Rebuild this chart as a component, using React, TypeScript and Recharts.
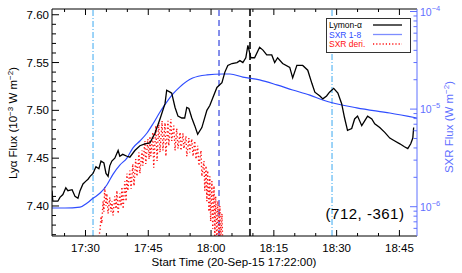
import { ComposedChart, Line, XAxis, YAxis, ReferenceLine, Legend } from "recharts"

// time is in minutes after 17:22:00 (start time of the plot)
const lyaTime = [
  0, 0.2, 1.4, 1.9, 2.6, 3.3, 3.8, 4.8, 5.5, 6.2, 6.7, 7.4, 8.1, 8.6, 9.1, 9.8, 10.5, 11.2, 11.7, 12.4,
  12.9, 13.4, 13.8, 14.3, 15.0, 15.8, 16.2, 16.9, 17.9, 18.6, 19.8, 21.0, 22.2, 23.4, 24.6, 25.8, 27.0, 27.4, 28.2, 28.6,
  29.4, 30.1, 31.0, 31.7, 32.2, 32.7, 33.4, 34.1, 34.8, 35.8, 37.0, 37.7, 38.4, 39.4, 40.6, 41.3, 42.0, 43.0, 44.2, 44.9,
  45.6, 46.3, 46.8, 47.5, 48.4, 49.6, 50.4, 51.3, 52.5, 53.2, 53.9, 55.1, 56.8, 57.5, 58.5, 59.9, 61.1, 62.1, 62.8, 64.0,
  64.7, 65.6, 66.3, 67.3, 68.3, 69.2, 69.9, 70.6, 71.6, 72.3, 73.0, 74.0, 74.7, 75.4, 76.4, 77.1, 78.3, 79.5, 80.7, 81.9,
  83.1, 84.2, 85.0, 85.7, 86.2, 86.4,
]
// Lyman-alpha flux, 10^-3 W m^-2
const lyaFlux = [
  7.416, 7.405, 7.405, 7.409, 7.412, 7.419, 7.416, 7.417, 7.41, 7.408, 7.416, 7.423, 7.426, 7.428, 7.431, 7.434, 7.441, 7.439, 7.447, 7.445,
  7.434, 7.431, 7.442, 7.447, 7.45, 7.458, 7.452, 7.454, 7.452, 7.451, 7.458, 7.463, 7.465, 7.466, 7.476, 7.491, 7.507, 7.521, 7.519, 7.518,
  7.503, 7.494, 7.492, 7.492, 7.503, 7.502, 7.492, 7.484, 7.475, 7.482, 7.5, 7.505, 7.513, 7.524, 7.529, 7.54, 7.547, 7.549, 7.55, 7.552,
  7.55, 7.555, 7.568, 7.555, 7.555, 7.566, 7.563, 7.558, 7.558, 7.55, 7.555, 7.549, 7.545, 7.534, 7.547, 7.547, 7.542, 7.528, 7.519, 7.515,
  7.512, 7.515, 7.519, 7.523, 7.518, 7.507, 7.492, 7.479, 7.481, 7.491, 7.494, 7.484, 7.489, 7.494, 7.491, 7.486, 7.482, 7.477, 7.471, 7.468,
  7.465, 7.462, 7.46, 7.465, 7.471, 7.482,
]

const sxrTime = [
  0, 3.1, 6.7, 8.4, 9.8, 11.5, 13.1, 14.6, 16.2, 17.9, 19.3, 21.0, 22.7, 24.1, 25.8, 27.4,
  28.9, 30.5, 33.6, 37.0, 40.8, 42.5, 45.6, 49.6, 53.7, 57.5, 61.6, 64.7, 72.8, 80.7, 87.2,
]
// GOES 1-8 A flux, W m^-2
const sxrFlux = [
  9.7e-7, 9.7e-7, 9.9e-7, 1.09e-6, 1.22e-6, 1.38e-6, 1.67e-6, 2.16e-6, 2.67e-6, 3.15e-6, 3.99e-6, 4.71e-6, 5.69e-6, 7.03e-6, 9.33e-6, 1.18e-5,
  1.43e-5, 1.68e-5, 2.08e-5, 2.24e-5, 2.29e-5, 2.29e-5, 2.13e-5, 1.99e-5, 1.77e-5, 1.57e-5, 1.39e-5, 1.24e-5, 1.03e-5, 9.12e-6, 8.11e-6,
]

// SXR derivative, scaled onto the Lya axis
const derivTime = [
  10.7, 11.5, 11.7, 11.9, 12.2, 12.4, 12.6, 12.9, 13.1, 13.4,
  13.8, 14.1, 14.3, 14.6, 15.0, 15.3, 15.5, 15.8, 16.2, 16.5,
  16.7, 17.0, 17.4, 17.7, 17.9, 18.1, 18.6, 18.9, 19.3, 19.6,
  20.0, 20.3, 20.8, 21.0, 21.5, 21.7, 22.2, 22.4, 22.9, 23.2,
  23.4, 23.6, 24.1, 24.3, 24.8, 25.1, 25.5, 25.8, 26.3, 26.5,
  27.0, 27.2, 27.7, 27.9, 28.4, 28.6, 29.1, 29.4, 29.8, 30.1,
  30.6, 30.8, 31.3, 31.5, 32.0, 32.2, 32.7, 32.9, 33.4, 33.7,
  34.1, 34.4, 34.8, 35.1, 35.6, 35.8, 36.3, 36.5, 36.8, 37.0,
  37.2, 37.5, 37.7, 37.9, 38.2, 38.4, 38.7, 38.9, 39.1, 39.4,
  39.6, 39.9, 40.1, 40.3, 40.6, 40.8,
]
const derivFlux = [
  7.352, 7.376, 7.389, 7.382, 7.405, 7.394, 7.42, 7.4, 7.413, 7.392,
  7.409, 7.394, 7.405, 7.39, 7.41, 7.397, 7.416, 7.392, 7.413, 7.4,
  7.42, 7.397, 7.426, 7.405, 7.434, 7.416, 7.437, 7.418, 7.444, 7.421,
  7.449, 7.431, 7.456, 7.434, 7.458, 7.442, 7.468, 7.444, 7.47, 7.449,
  7.473, 7.452, 7.477, 7.44, 7.484, 7.447, 7.487, 7.456, 7.489, 7.458,
  7.487, 7.452, 7.489, 7.463, 7.491, 7.468, 7.484, 7.458, 7.481, 7.46,
  7.477, 7.458, 7.476, 7.46, 7.473, 7.452, 7.471, 7.456, 7.47, 7.452,
  7.468, 7.449, 7.463, 7.442, 7.458, 7.431, 7.447, 7.416, 7.442, 7.405,
  7.437, 7.394, 7.431, 7.384, 7.426, 7.376, 7.421, 7.367, 7.41, 7.363,
  7.405, 7.363, 7.4, 7.363, 7.392, 7.358,
]

// vertical marker lines (minutes after start)
const cyanMarks = [9.8, 66.9]
const blueMarks = [39.9]
const blackMarks = [47.3]

const timeMajor = [8, 23, 38, 53, 68, 83]
const timeLabels = ["17:30", "17:45", "18:00", "18:15", "18:30", "18:45"]
const timeMinor = [3, 13, 18, 28, 33, 43, 48, 58, 63, 73, 78]

const lyaMajor = [7.4, 7.45, 7.5, 7.55, 7.6]
const lyaLabels = ["7.40", "7.45", "7.50", "7.55", "7.60"]
const lyaMinor = [7.37, 7.38, 7.39, 7.41, 7.42, 7.43, 7.44, 7.46, 7.47, 7.48, 7.49, 7.51, 7.52, 7.53, 7.54, 7.56, 7.57, 7.58, 7.59]

const sxrMajor = [1e-6, 1e-5, 1e-4]
const sxrExponents = ["−6", "−5", "−4"]
const sxrMinor = [
  6e-7, 7e-7, 8e-7, 9e-7, 2e-6, 3e-6, 4e-6, 5e-6, 6e-6, 7e-6, 8e-6, 9e-6,
  2e-5, 3e-5, 4e-5, 5e-5, 6e-5, 7e-5, 8e-5, 9e-5,
]

const legendNames = ["Lymon-α", "SXR 1-8", "SXR deri."]

const font = "'Liberation Sans', Arial, Helvetica, sans-serif"
const sxrBlue = "#2f4dff"
const axisBlue = "#5f70ff"
const derivRed = "#ff1010"

const lyaData = lyaTime.map((t, i) => ({ t, lya: lyaFlux[i] }))
const sxrData = sxrTime.map((t, i) => ({ t, sxr: sxrFlux[i] }))
const derivData = derivTime.map((t, i) => ({ t, deriv: derivFlux[i] }))

const findTick = (list: number[], v: number) =>
  list.findIndex((m) => Math.abs(m - v) <= Math.abs(m) * 1e-6)

function BottomTick({ x, y, payload }: any) {
  const ay = y // tickMargin 0, tickSize 0 -> axis line
  const i = findTick(timeMajor, payload.value)
  const len = i >= 0 ? 6 : 3
  return (
    <g>
      <line x1={x} x2={x} y1={ay} y2={ay - len} stroke="#000" />
      {i >= 0 && (
        <text x={x} y={ay + 16} textAnchor="middle" fontSize={11.5} fontFamily={font} fill="#000">
          {timeLabels[i]}
        </text>
      )}
    </g>
  )
}

function TopTick({ x, y, payload }: any) {
  const len = findTick(timeMajor, payload.value) >= 0 ? 6 : 3
  return <line x1={x} x2={x} y1={y} y2={y + len} stroke="#000" />
}

function LeftTick({ x, y, payload }: any) {
  const ax = x + 3
  const i = findTick(lyaMajor, payload.value)
  const len = i >= 0 ? 7 : 4
  return (
    <g>
      <line x1={ax} x2={ax + len} y1={y} y2={y} stroke="#000" />
      {i >= 0 && (
        <text x={x} y={y + 4} textAnchor="end" fontSize={11.5} fontFamily={font} fill="#000">
          {lyaLabels[i]}
        </text>
      )}
    </g>
  )
}

function RightTick({ x, y, payload }: any) {
  const ax = x - 3
  const i = findTick(sxrMajor, payload.value)
  const len = i >= 0 ? 7 : 3.5
  return (
    <g>
      <line x1={ax} x2={ax - len} y1={y} y2={y} stroke={axisBlue} />
      {i >= 0 && (
        <text x={x} y={y + 4} fontSize={10.5} fontFamily={font} fill={axisBlue}>
          10
          <tspan dy={-5} fontSize={7.5}>
            {sxrExponents[i]}
          </tspan>
        </text>
      )}
    </g>
  )
}

function LegendBox() {
  const lines = [
    { color: "#000", stroke: "#000", dash: undefined },
    { color: sxrBlue, stroke: "#7d8dff", dash: undefined },
    { color: derivRed, stroke: derivRed, dash: "1.2 2" },
  ]
  return (
    <svg width={85} height={35} style={{ display: "block" }}>
      <rect x={0.5} y={0.5} width={84} height={34} fill="#fff" stroke="#333" />
      {legendNames.map((name, i) => (
        <g key={name}>
          <text x={3} y={10 + i * 9.5} fontSize={8.5} fontFamily={font} fill={lines[i].color}>
            {name}
          </text>
          <line
            x1={47}
            x2={76}
            y1={7 + i * 9.5}
            y2={7 + i * 9.5}
            stroke={lines[i].stroke}
            strokeWidth={1.3}
            strokeDasharray={lines[i].dash}
          />
        </g>
      ))}
    </svg>
  )
}

export default function App() {
  return (
    <div style={{ position: "absolute", left: 0, top: 0, width: 462, height: 273, background: "#fff" }}>
      <ComposedChart width={462} height={273} margin={{ top: 8, right: 5, bottom: 7, left: 10 }}>
        <XAxis
          xAxisId="x"
          dataKey="t"
          type="number"
          domain={[0, 87.2]}
          allowDataOverflow
          ticks={[...timeMinor, ...timeMajor].sort((a, b) => a - b)}
          interval={0}
          tickSize={0}
          tickMargin={0}
          tickLine={false}
          tick={<BottomTick />}
          axisLine={{ stroke: "#000" }}
          height={30}
        />
        <XAxis
          xAxisId="top"
          orientation="top"
          dataKey="t"
          type="number"
          domain={[0, 87.2]}
          allowDataOverflow
          ticks={[...timeMinor, ...timeMajor].sort((a, b) => a - b)}
          interval={0}
          tickSize={0}
          tickMargin={0}
          tickLine={false}
          tick={<TopTick />}
          axisLine={{ stroke: "#000" }}
          height={1}
        />
        <YAxis
          yAxisId="lya"
          type="number"
          domain={[7.3686, 7.606]}
          allowDataOverflow
          ticks={[...lyaMinor, ...lyaMajor].sort((a, b) => a - b)}
          interval={0}
          tickSize={0}
          tickMargin={3}
          tickLine={false}
          tick={<LeftTick />}
          axisLine={{ stroke: "#000" }}
          width={42}
        />
        <YAxis
          yAxisId="sxr"
          orientation="right"
          type="number"
          scale="log"
          domain={[5.01e-7, 1.061e-4]}
          allowDataOverflow
          ticks={[...sxrMinor, ...sxrMajor].sort((a, b) => a - b)}
          interval={0}
          tickSize={0}
          tickMargin={3}
          tickLine={false}
          tick={<RightTick />}
          axisLine={{ stroke: axisBlue }}
          width={40}
        />

        {cyanMarks.map((t) => (
          <ReferenceLine key={"c" + t} x={t} xAxisId="x" yAxisId="lya" stroke="#3aa8f0" strokeDasharray="6 2 1 2" />
        ))}
        {blueMarks.map((t) => (
          <ReferenceLine key={"b" + t} x={t} xAxisId="x" yAxisId="lya" stroke="#3344dd" strokeWidth={1.2} strokeDasharray="6 4" />
        ))}
        {blackMarks.map((t) => (
          <ReferenceLine key={"k" + t} x={t} xAxisId="x" yAxisId="lya" stroke="#333" strokeWidth={2} strokeDasharray="7 4" />
        ))}

        <Line
          data={derivData}
          dataKey="deriv"
          xAxisId="x"
          yAxisId="lya"
          type="linear"
          stroke={derivRed}
          strokeWidth={1.4}
          strokeDasharray="1.3 2.4"
          dot={false}
          isAnimationActive={false}
        />
        <Line
          data={sxrData}
          dataKey="sxr"
          xAxisId="x"
          yAxisId="sxr"
          type="monotone"
          stroke={sxrBlue}
          strokeWidth={1.2}
          dot={false}
          isAnimationActive={false}
        />
        <Line
          data={lyaData}
          dataKey="lya"
          xAxisId="x"
          yAxisId="lya"
          type="linear"
          stroke="#000"
          strokeWidth={1.3}
          dot={false}
          isAnimationActive={false}
        />

        <Legend
          layout="horizontal"
          align="center"
          verticalAlign="middle"
          wrapperStyle={{ left: 326, top: 18, width: 85, height: 35 }}
          content={() => <LegendBox />}
        />
      </ComposedChart>

      <svg
        width={462}
        height={273}
        style={{ position: "absolute", left: 0, top: 0, pointerEvents: "none" }}
        fontFamily={font}
      >
        <text transform="translate(17,123) rotate(-90)" textAnchor="middle" fontSize={11.5} fill="#000">
          Lyα Flux (10
          <tspan dy={-4} fontSize={8}>−3</tspan>
          <tspan dy={4}> W m</tspan>
          <tspan dy={-4} fontSize={8}>−2</tspan>
          <tspan dy={4}>)</tspan>
        </text>
        <text transform="translate(453,127) rotate(-90)" textAnchor="middle" fontSize={11.5} fill={axisBlue}>
          SXR Flux (W m
          <tspan dy={-4} fontSize={8}>−2</tspan>
          <tspan dy={4}>)</tspan>
        </text>
        <text x={234} y={266} textAnchor="middle" fontSize={11.5} fill="#000">
          Start Time (20-Sep-15 17:22:00)
        </text>
        <text x={365} y={219} textAnchor="middle" fontSize={15} letterSpacing={0.5} fill="#000">
          (712, -361)
        </text>
      </svg>
    </div>
  )
}
